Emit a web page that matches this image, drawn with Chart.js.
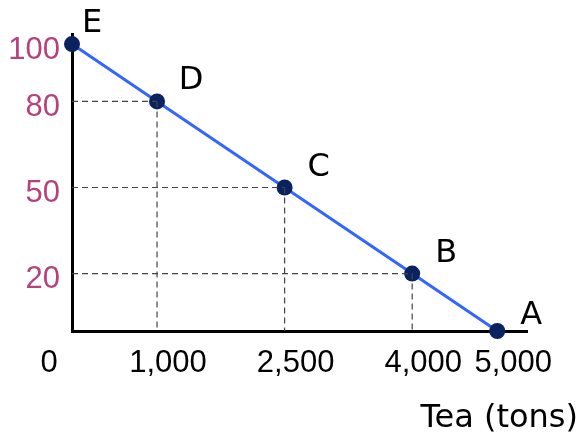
<!DOCTYPE html>
<html>
<head>
<meta charset="utf-8">
<script src="https://cdn.jsdelivr.net/npm/chart.js@4"></script>
<style>
  html, body { margin: 0; padding: 0; background: #fff; }
  #wrap { width: 584px; height: 438px; }
</style>
</head>
<body>
<div id="wrap"><canvas id="tea-chart"></canvas></div>
<script>
// values
const teaTons = [0, 1000, 2500, 4000, 5000];
const yValues = [100, 80, 50, 20, 0];
const pointNames = ['E', 'D', 'C', 'B', 'A'];
const xTickValues = [0, 1000, 2500, 4000, 5000];
const xTickLabels = ['0', '1,000', '2,500', '4,000', '5,000'];
const yTickValues = [20, 50, 80, 100];
const xTitle = 'Tea (tons)';

const NUM_FONT = '"Liberation Sans", Arial, sans-serif';
const TXT_FONT = '"DejaVu Sans", sans-serif';

// dashed guides, point letters, x tick labels and axis title
const extras = {
    id: 'extras',
    afterDatasetsDraw(chart) {
        const ctx = chart.ctx;
        const xs = chart.scales.x, ys = chart.scales.y;
        const left = chart.chartArea.left, bottom = chart.chartArea.bottom;
        ctx.save();
        ctx.strokeStyle = '#444';
        ctx.lineWidth = 1.2;
        ctx.setLineDash([6, 4]);
        teaTons.forEach((t, i) => {
            if (t === 0 || yValues[i] === 0) return;
            const px = xs.getPixelForValue(t), py = ys.getPixelForValue(yValues[i]);
            ctx.beginPath();
            ctx.moveTo(left, py); ctx.lineTo(px, py);
            ctx.moveTo(px, py); ctx.lineTo(px, bottom);
            ctx.stroke();
        });
        ctx.restore();
    },
    afterDraw(chart) {
        const ctx = chart.ctx;
        const xs = chart.scales.x, ys = chart.scales.y;
        const bottom = chart.chartArea.bottom;
        ctx.save();
        ctx.fillStyle = '#000';
        ctx.textBaseline = 'alphabetic';
        ctx.textAlign = 'center';
        // point letters
        ctx.font = '32px ' + TXT_FONT;
        teaTons.forEach((t, i) => {
            const px = xs.getPixelForValue(t), py = ys.getPixelForValue(yValues[i]);
            const dx = t === 0 ? 20 : 34;
            const dy = yValues[i] === 0 ? -7 : -12;
            ctx.fillText(pointNames[i], px + dx, py + dy);
        });
        // x tick labels
        ctx.font = '31px ' + NUM_FONT;
        xTickValues.forEach((v, i) => {
            const px = xs.getPixelForValue(v);
            let cx = v === 0 ? px - 23 : px + 11;
            if (v === xTickValues[xTickValues.length - 1]) cx += 5;
            ctx.fillText(xTickLabels[i], cx, bottom + 41);
        });
        // axis title
        ctx.font = '32px ' + TXT_FONT;
        ctx.textAlign = 'right';
        ctx.fillText(xTitle, 578, 427);
        ctx.restore();
    }
};

new Chart(document.getElementById('tea-chart'), {
    type: 'line',
    data: {
        datasets: [{
            data: teaTons.map((t, i) => ({ x: t, y: yValues[i] })),
            borderColor: '#3366ff',
            borderWidth: 3,
            pointRadius: 8,
            pointHoverRadius: 8,
            pointBackgroundColor: '#0a2260',
            pointBorderColor: '#0a2260',
            pointBorderWidth: 0,
            tension: 0,
            clip: false
        }]
    },
    options: {
        responsive: true,
        maintainAspectRatio: false,
        animation: false,
        events: [],
        layout: { padding: { top: 34, right: 57, left: 0, bottom: 0 } },
        plugins: { legend: { display: false }, tooltip: { enabled: false } },
        scales: {
            x: {
                type: 'linear',
                min: 0,
                max: 5350,
                afterBuildTicks: s => { s.ticks = xTickValues.map(v => ({ value: v })); },
                afterFit: s => { s.height = 107; },
                grid: { display: false },
                border: { display: true, color: '#000', width: 3 },
                ticks: { display: false }
            },
            y: {
                type: 'linear',
                min: 0,
                max: 103.5,
                afterBuildTicks: s => { s.ticks = yTickValues.map(v => ({ value: v })); },
                afterFit: s => { s.width = 72; },
                grid: { display: false },
                border: { display: true, color: '#000', width: 3 },
                ticks: {
                    color: '#b5427c',
                    font: { family: NUM_FONT, size: 31 },
                    padding: 4,
                    labelOffset: 6
                }
            }
        }
    },
    plugins: [extras]
});
</script>
</body>
</html>
